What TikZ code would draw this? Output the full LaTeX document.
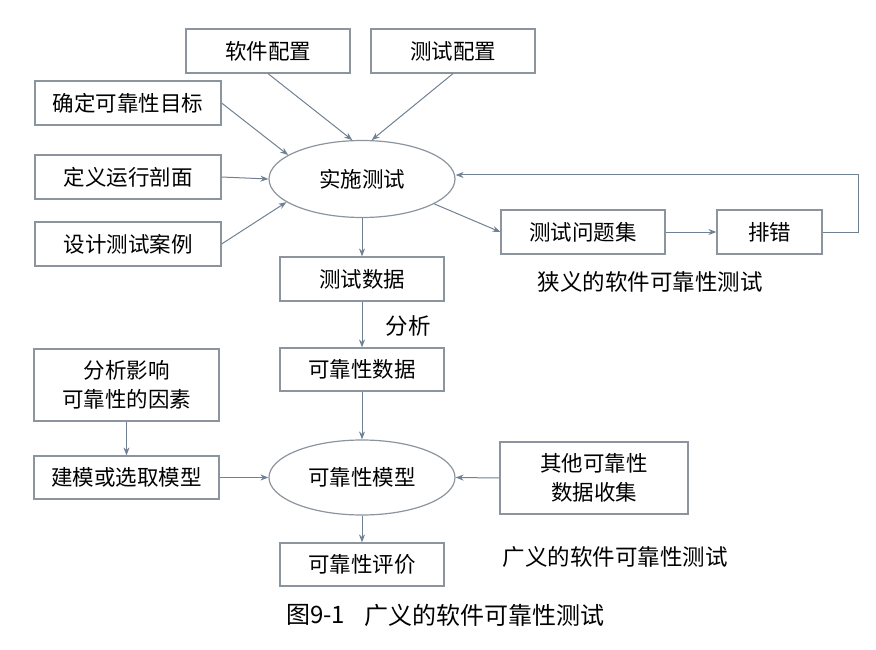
\documentclass[tikz,border=0pt]{standalone}
\usepackage{fontspec}
\setmainfont{Noto Sans CJK SC}
\usetikzlibrary{shapes.geometric,arrows.meta}
\definecolor{boxgray}{HTML}{8C959E}
\definecolor{arrowcol}{HTML}{6F8193}
\tikzset{
  px/.style={x=1pt,y=-1pt},
  box/.style={draw=boxgray,line width=1.2pt,fill=white,inner sep=0pt,align=center,
    font=\fontsize{21.5}{29.5}\selectfont},
  oval/.style={ellipse,draw=boxgray,line width=1.2pt,fill=white,inner sep=0pt,
    minimum width=186pt,minimum height=77pt,font=\fontsize{21.5}{29.5}\selectfont},
  arr/.style={draw=arrowcol,line width=1pt,-{Stealth[length=8pt,width=6pt]}},
  lbl/.style={inner sep=0pt,font=\fontsize{22.5}{26}\selectfont},
}
\begin{document}
\begin{tikzpicture}[px]
\useasboundingbox (0,0) rectangle (876,650);
% top boxes
\node[box,minimum width=164pt,minimum height=44pt] (rjpz) at (268,51) {软件配置};
\node[box,minimum width=164pt,minimum height=44pt] (cspz) at (453,51) {测试配置};
\node[box,minimum width=186pt,minimum height=44pt] (qd) at (128,103) {确定可靠性目标};
\node[box,minimum width=186pt,minimum height=44pt] (dy) at (128,177) {定义运行剖面};
\node[box,minimum width=186pt,minimum height=44pt] (sj) at (128,244) {设计测试案例};
\node[oval] (ss) at (362,179) {实施测试};
\node[box,minimum width=164pt,minimum height=44pt] (wtj) at (583,232) {测试问题集};
\node[box,minimum width=105pt,minimum height=44pt] (pc) at (769.5,232) {排错};
\node[lbl] (nar) at (650,282) {狭义的软件可靠性测试};
\node[box,minimum width=164pt,minimum height=44pt] (sjd) at (362,279) {测试数据};
\node[lbl] (fx) at (408,326) {分析};
\node[box,minimum width=164pt,minimum height=43pt] (kksj) at (362,369.5) {可靠性数据};
\node[box,minimum width=185pt,minimum height=72pt] (fxyx) at (126.5,385) {分析影响\\可靠性的因素};
\node[box,minimum width=185pt,minimum height=43pt] (jm) at (126.5,477.5) {建模或选取模型};
\node[oval,minimum height=75pt] (mx) at (362,477.5) {可靠性模型};
\node[box,minimum width=188pt,minimum height=72pt] (qt) at (594,478) {其他可靠性\\数据收集};
\node[box,minimum width=164pt,minimum height=43pt] (pj) at (362,564.5) {可靠性评价};
\node[lbl] (wide) at (615,557) {广义的软件可靠性测试};
\node[lbl,anchor=west,font=\fontsize{24}{28}\selectfont] (capnum) at (286,615) {图9-1};
\node[lbl,anchor=west,font=\fontsize{24}{28}\selectfont] (cap) at (364,615) {广义的软件可靠性测试};
% connectors
\draw[arr] (rjpz.south) -- (ss.104);
\draw[arr] (cspz.south) -- (ss.76);
\draw[arr] (qd.east) -- (ss.162);
\draw[arr] (dy.east) -- (ss.west);
\draw[arr] (sj.east) -- (ss.197);
\draw[arr] (ss.south) -- (sjd.north);
\draw[arr] (ss.341) -- (wtj.west);
\draw[arr] (wtj.east) -- (pc.west);
\coordinate (fb) at (858,175);
\draw[arr] (pc.east) -| (fb) -- (fb -| ss.east);
\draw[arr] (sjd.south) -- (kksj.north);
\draw[arr] (kksj.south) -- (mx.north);
\draw[arr] (fxyx.south) -- (jm.north);
\draw[arr] (jm.east) -- (mx.west);
\draw[arr] (qt.west) -- (mx.east);
\draw[arr] (mx.south) -- (pj.north);
\end{tikzpicture}
\end{document}
